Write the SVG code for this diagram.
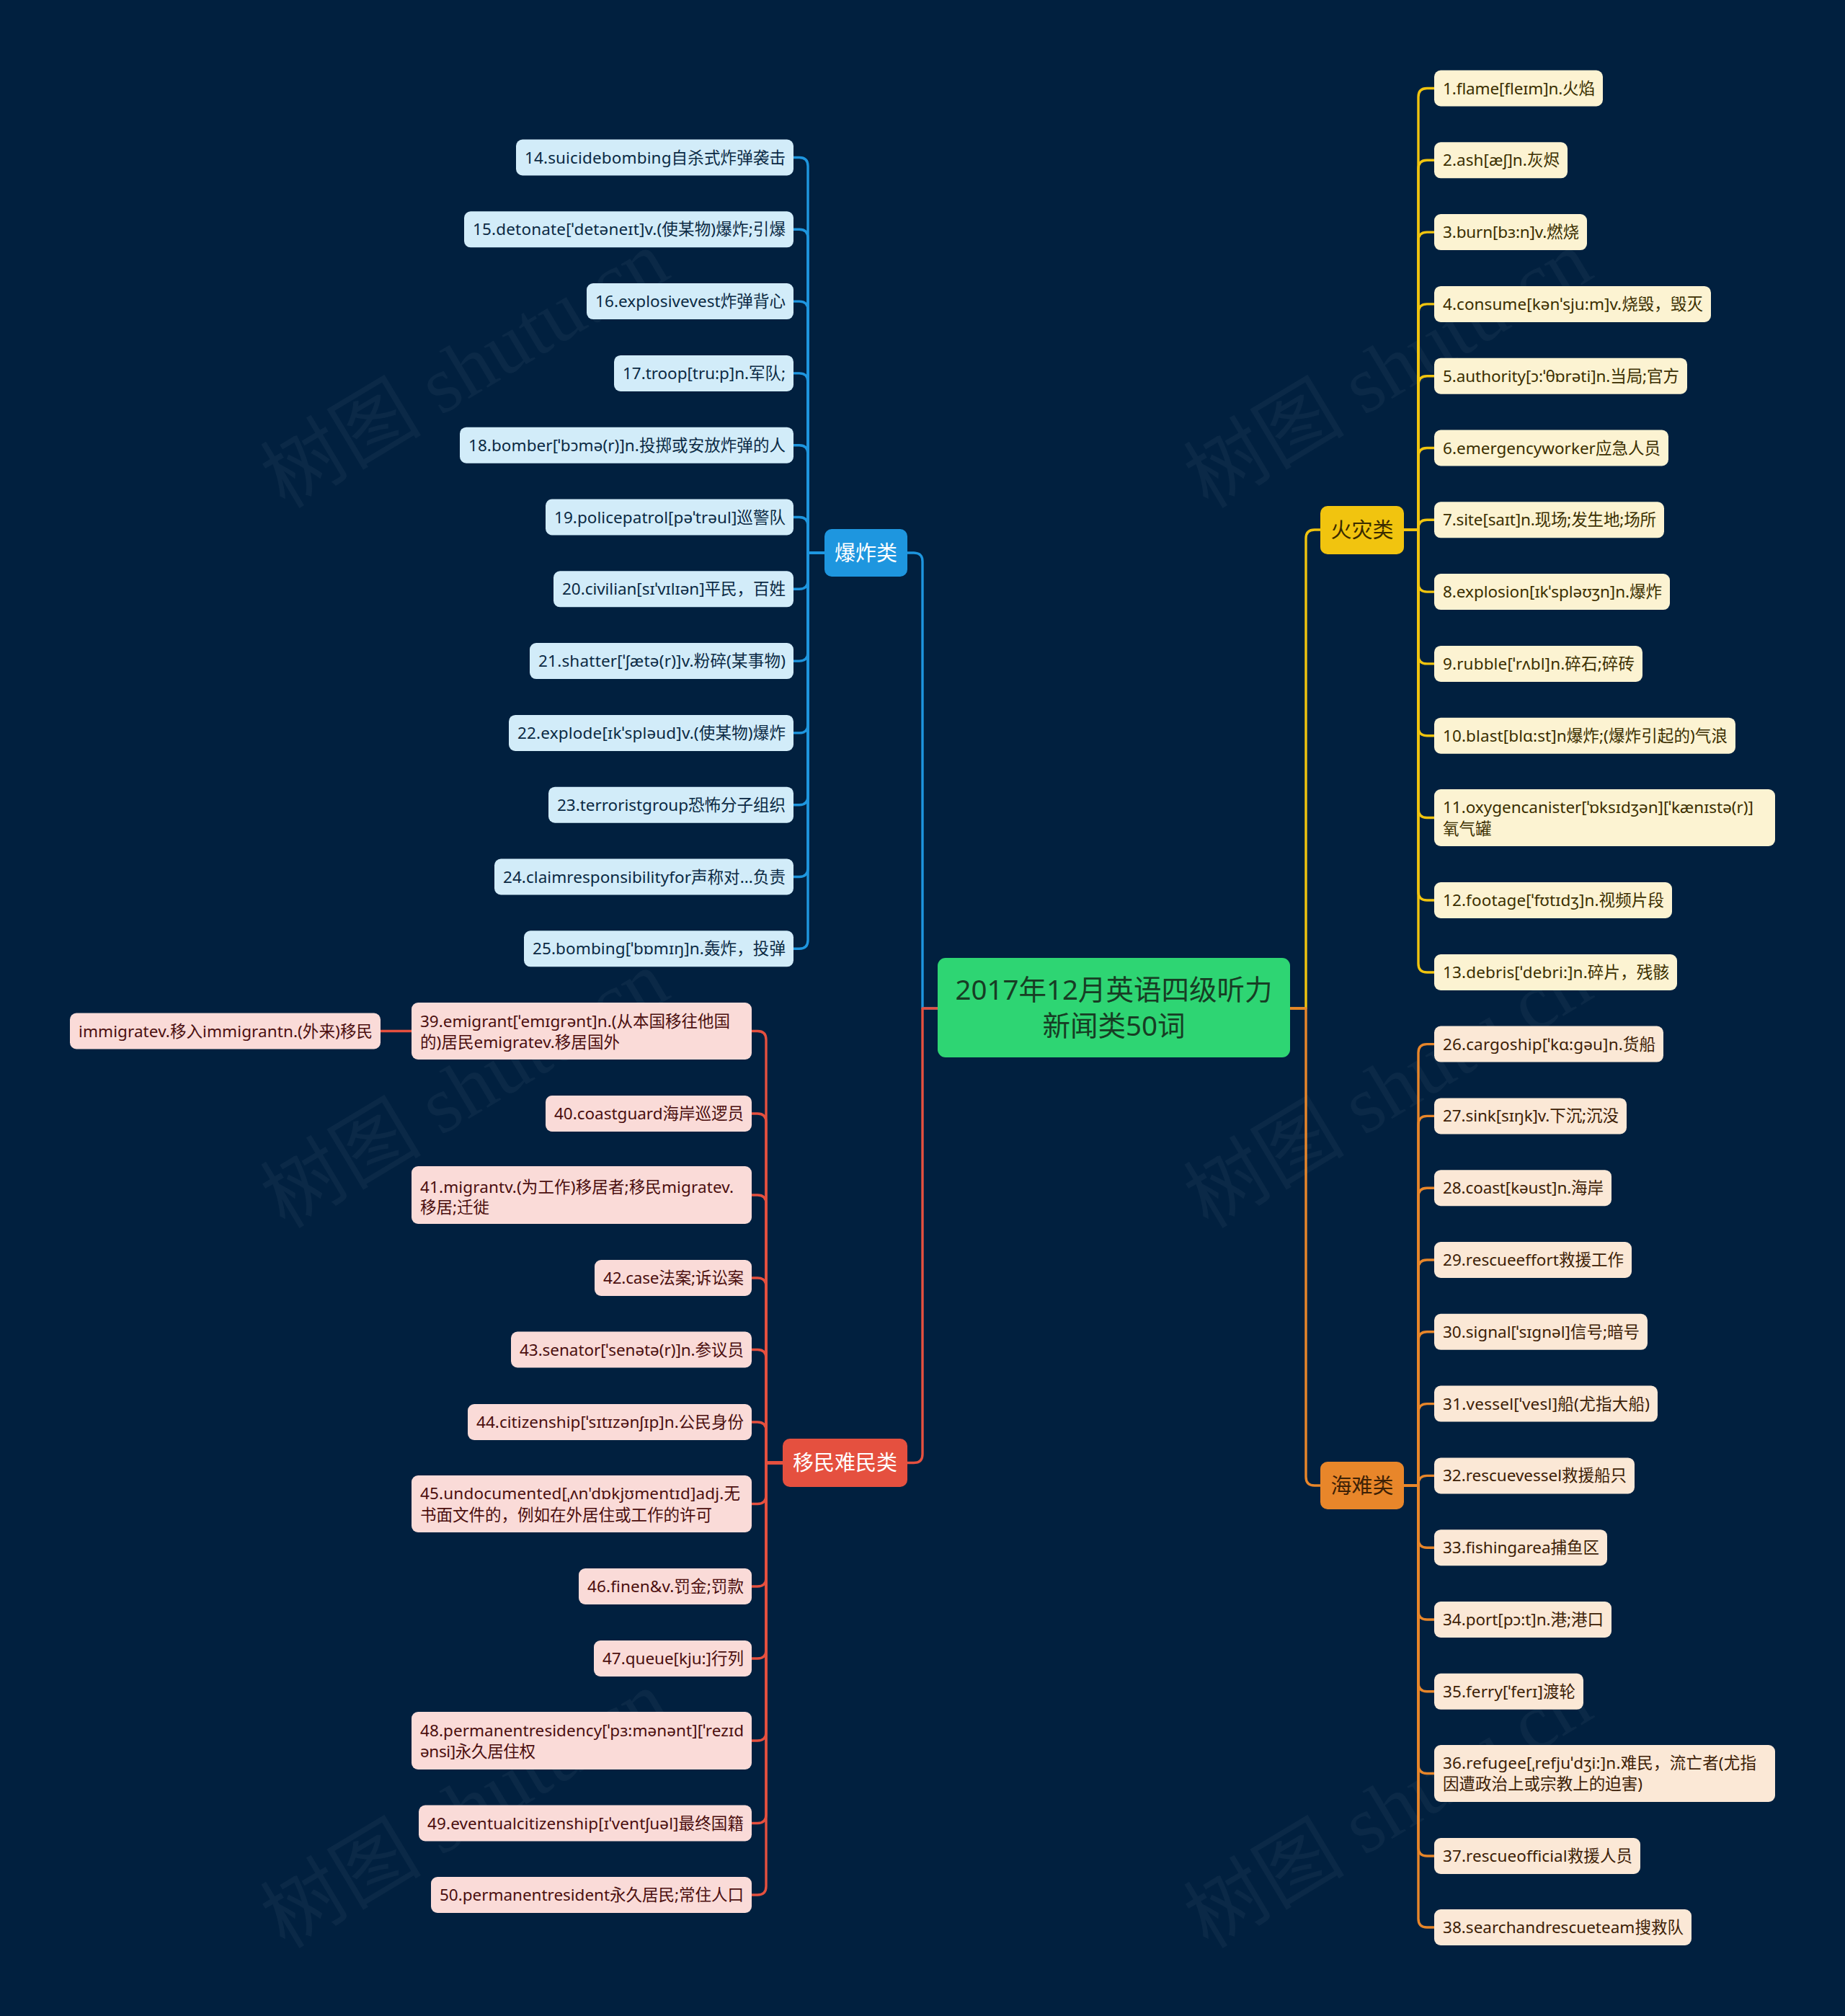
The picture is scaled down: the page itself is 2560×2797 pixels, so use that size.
<svg xmlns="http://www.w3.org/2000/svg" width="2560" height="2797" viewBox="0 0 2560 2797">
<style>
text{font-family:"Noto Sans","Noto Sans CJK SC",sans-serif;font-size:22.5px}
.c{fill:none;stroke-width:3.4;stroke-linejoin:round}
.cb{stroke:#1e96df}.cy{stroke:#f1c40f}.co{stroke:#e8862a}.cr{stroke:#e5503f}
.bb{fill:#d2ecf9}.tb{fill:#0b2a44}
.by{fill:#fcf3d2}.ty{fill:#3b2f00}
.bo{fill:#fbe8d6}.to{fill:#3d2106}
.br{fill:#fadbd8}.tr{fill:#4b0f0f}
.br2{font-size:29px}
.wm{font-family:"Liberation Serif","Noto Sans CJK SC",serif;font-size:112px;fill:#ffffff;fill-opacity:0.045}
</style>
<rect width="2560" height="2797" fill="#01203f"/>
<g id="watermarks">
<text class="wm" x="646" y="550" text-anchor="middle" transform="rotate(-31 646 514)">树图 shutu.cn</text>
<text class="wm" x="1927" y="550" text-anchor="middle" transform="rotate(-31 1927 514)">树图 shutu.cn</text>
<text class="wm" x="646" y="1549" text-anchor="middle" transform="rotate(-31 646 1513)">树图 shutu.cn</text>
<text class="wm" x="1927" y="1549" text-anchor="middle" transform="rotate(-31 1927 1513)">树图 shutu.cn</text>
<text class="wm" x="646" y="2548" text-anchor="middle" transform="rotate(-31 646 2512)">树图 shutu.cn</text>
<text class="wm" x="1927" y="2548" text-anchor="middle" transform="rotate(-31 1927 2512)">树图 shutu.cn</text>
</g>
<g id="connectors">
<path class="c cb" d="M1301 1399H1280V779Q1280 767 1268 767H1259"/>
<path class="c cr" d="M1301 1399H1280V2017.5Q1280 2029.5 1268 2029.5H1259"/>
<path class="c cy" d="M1790 1399H1812V747Q1812 735 1824 735H1832"/>
<path class="c co" d="M1790 1399H1812V2049Q1812 2061 1824 2061H1832"/>
<g class="c cb">
<path d="M1144 767H1121V230.5Q1121 218.5 1109 218.5H1101"/>
<path d="M1144 767H1121V330.3Q1121 318.3 1109 318.3H1101"/>
<path d="M1144 767H1121V430.1Q1121 418.1 1109 418.1H1101"/>
<path d="M1144 767H1121V529.9Q1121 517.9 1109 517.9H1101"/>
<path d="M1144 767H1121V629.7Q1121 617.7 1109 617.7H1101"/>
<path d="M1144 767H1121V729.5Q1121 717.5 1109 717.5H1101"/>
<path d="M1144 767H1121V805.3Q1121 817.3 1109 817.3H1101"/>
<path d="M1144 767H1121V905.1Q1121 917.1 1109 917.1H1101"/>
<path d="M1144 767H1121V1004.9Q1121 1016.9 1109 1016.9H1101"/>
<path d="M1144 767H1121V1104.7Q1121 1116.7 1109 1116.7H1101"/>
<path d="M1144 767H1121V1204.5Q1121 1216.5 1109 1216.5H1101"/>
<path d="M1144 767H1121V1304.3Q1121 1316.3 1109 1316.3H1101"/>
</g>
<g class="c cy">
<path d="M1948 735H1968V134.5Q1968 122.5 1980 122.5H1990"/>
<path d="M1948 735H1968V234.3Q1968 222.3 1980 222.3H1990"/>
<path d="M1948 735H1968V334.1Q1968 322.1 1980 322.1H1990"/>
<path d="M1948 735H1968V433.9Q1968 421.9 1980 421.9H1990"/>
<path d="M1948 735H1968V533.7Q1968 521.7 1980 521.7H1990"/>
<path d="M1948 735H1968V633.5Q1968 621.5 1980 621.5H1990"/>
<path d="M1948 735H1968V733.3Q1968 721.3 1980 721.3H1990"/>
<path d="M1948 735H1968V809.1Q1968 821.1 1980 821.1H1990"/>
<path d="M1948 735H1968V908.9Q1968 920.9 1980 920.9H1990"/>
<path d="M1948 735H1968V1008.7Q1968 1020.7 1980 1020.7H1990"/>
<path d="M1948 735H1968V1122.5Q1968 1134.5 1980 1134.5H1990"/>
<path d="M1948 735H1968V1237Q1968 1249 1980 1249H1990"/>
<path d="M1948 735H1968V1337Q1968 1349 1980 1349H1990"/>
</g>
<g class="c co">
<path d="M1948 2061H1968V1460.6Q1968 1448.6 1980 1448.6H1990"/>
<path d="M1948 2061H1968V1560.4Q1968 1548.4 1980 1548.4H1990"/>
<path d="M1948 2061H1968V1660.2Q1968 1648.2 1980 1648.2H1990"/>
<path d="M1948 2061H1968V1760Q1968 1748 1980 1748H1990"/>
<path d="M1948 2061H1968V1859.8Q1968 1847.8 1980 1847.8H1990"/>
<path d="M1948 2061H1968V1959.6Q1968 1947.6 1980 1947.6H1990"/>
<path d="M1948 2061H1968V2059.4Q1968 2047.4 1980 2047.4H1990"/>
<path d="M1948 2061H1968V2135.2Q1968 2147.2 1980 2147.2H1990"/>
<path d="M1948 2061H1968V2235Q1968 2247 1980 2247H1990"/>
<path d="M1948 2061H1968V2334.8Q1968 2346.8 1980 2346.8H1990"/>
<path d="M1948 2061H1968V2448.5Q1968 2460.5 1980 2460.5H1990"/>
<path d="M1948 2061H1968V2563Q1968 2575 1980 2575H1990"/>
<path d="M1948 2061H1968V2662Q1968 2674 1980 2674H1990"/>
</g>
<g class="c cr">
<path d="M1086 2029.5H1063V1442.5Q1063 1430.5 1051 1430.5H1043"/>
<path d="M1086 2029.5H1063V1557Q1063 1545 1051 1545H1043"/>
<path d="M1086 2029.5H1063V1670Q1063 1658 1051 1658H1043"/>
<path d="M1086 2029.5H1063V1785Q1063 1773 1051 1773H1043"/>
<path d="M1086 2029.5H1063V1884.5Q1063 1872.5 1051 1872.5H1043"/>
<path d="M1086 2029.5H1063V1985Q1063 1973 1051 1973H1043"/>
<path d="M1086 2029.5H1063V2074.5Q1063 2086.5 1051 2086.5H1043"/>
<path d="M1086 2029.5H1063V2189Q1063 2201 1051 2201H1043"/>
<path d="M1086 2029.5H1063V2289Q1063 2301 1051 2301H1043"/>
<path d="M1086 2029.5H1063V2403Q1063 2415 1051 2415H1043"/>
<path d="M1086 2029.5H1063V2517.5Q1063 2529.5 1051 2529.5H1043"/>
<path d="M1086 2029.5H1063V2617Q1063 2629 1051 2629H1043"/>
<path d="M571 1430.5H528"/>
</g>
</g>

<g id="root">
<rect x="1301" y="1329" width="489" height="138" rx="11" fill="#2ed573"/>
<text x="1545.5" y="1386.5" text-anchor="middle" fill="#173d24" style="font-size:38.5px">2017年12月英语四级听力</text>
<text x="1545.5" y="1436.5" text-anchor="middle" fill="#173d24" style="font-size:38.5px">新闻类50词</text>
</g>

<g id="branch-explosion">
<rect x="1144" y="734" width="115" height="66" rx="10" fill="#1e96df"/>
<text class="br2" x="1201.5" y="777.5" text-anchor="middle" fill="#ffffff">爆炸类</text>
</g>
<g id="branch-fire">
<rect x="1832" y="702" width="116" height="67" rx="10" fill="#f1c40f"/>
<text class="br2" x="1890" y="746" text-anchor="middle" fill="#3a2b00">火灾类</text>
</g>
<g id="branch-sea">
<rect x="1832" y="2028" width="116" height="66" rx="10" fill="#e8862a"/>
<text class="br2" x="1890" y="2071.5" text-anchor="middle" fill="#3d2106">海难类</text>
</g>
<g id="branch-migration">
<rect x="1086" y="1996" width="173" height="67" rx="10" fill="#e5503f"/>
<text class="br2" x="1172.5" y="2040" text-anchor="middle" fill="#ffffff">移民难民类</text>
</g>

<g id="n14"><rect class="bb" x="716" y="193.5" width="385" height="50" rx="9"/><text class="tb" x="728" y="226.5" textLength="362" lengthAdjust="spacing">14.suicidebombing自杀式炸弹袭击</text></g>
<g id="n15"><rect class="bb" x="644" y="293.3" width="457" height="50" rx="9"/><text class="tb" x="656" y="326.3" textLength="434" lengthAdjust="spacing">15.detonate[ˈdetəneɪt]v.(使某物)爆炸;引爆</text></g>
<g id="n16"><rect class="bb" x="814" y="393.1" width="287" height="50" rx="9"/><text class="tb" x="826" y="426.1" textLength="264" lengthAdjust="spacing">16.explosivevest炸弹背心</text></g>
<g id="n17"><rect class="bb" x="852" y="492.9" width="249" height="50" rx="9"/><text class="tb" x="864" y="525.9" textLength="226" lengthAdjust="spacing">17.troop[tru:p]n.军队;</text></g>
<g id="n18"><rect class="bb" x="638" y="592.7" width="463" height="50" rx="9"/><text class="tb" x="650" y="625.7" textLength="440" lengthAdjust="spacing">18.bomber[ˈbɔmə(r)]n.投掷或安放炸弹的人</text></g>
<g id="n19"><rect class="bb" x="757" y="692.5" width="344" height="50" rx="9"/><text class="tb" x="769" y="725.5" textLength="321" lengthAdjust="spacing">19.policepatrol[pəˈtrəul]巡警队</text></g>
<g id="n20"><rect class="bb" x="768" y="792.3" width="333" height="50" rx="9"/><text class="tb" x="780" y="825.3" textLength="310" lengthAdjust="spacing">20.civilian[sɪˈvɪlɪən]平民，百姓</text></g>
<g id="n21"><rect class="bb" x="735" y="892.1" width="366" height="50" rx="9"/><text class="tb" x="747" y="925.1" textLength="343" lengthAdjust="spacing">21.shatter[ˈʃætə(r)]v.粉碎(某事物)</text></g>
<g id="n22"><rect class="bb" x="706" y="991.9" width="395" height="50" rx="9"/><text class="tb" x="718" y="1024.9" textLength="372" lengthAdjust="spacing">22.explode[ɪkˈspləud]v.(使某物)爆炸</text></g>
<g id="n23"><rect class="bb" x="761" y="1091.7" width="340" height="50" rx="9"/><text class="tb" x="773" y="1124.7" textLength="317" lengthAdjust="spacing">23.terroristgroup恐怖分子组织</text></g>
<g id="n24"><rect class="bb" x="686" y="1191.5" width="415" height="50" rx="9"/><text class="tb" x="698" y="1224.5" textLength="392" lengthAdjust="spacing">24.claimresponsibilityfor声称对...负责</text></g>
<g id="n25"><rect class="bb" x="727" y="1291.3" width="374" height="50" rx="9"/><text class="tb" x="739" y="1324.3" textLength="351" lengthAdjust="spacing">25.bombing[ˈbɒmɪŋ]n.轰炸，投弹</text></g>

<g id="n1"><rect class="by" x="1990" y="97.5" width="234" height="50" rx="9"/><text class="ty" x="2002" y="130.5" textLength="211" lengthAdjust="spacing">1.flame[fleɪm]n.火焰</text></g>
<g id="n2"><rect class="by" x="1990" y="197.3" width="185" height="50" rx="9"/><text class="ty" x="2002" y="230.3" textLength="162" lengthAdjust="spacing">2.ash[æʃ]n.灰烬</text></g>
<g id="n3"><rect class="by" x="1990" y="297.1" width="212" height="50" rx="9"/><text class="ty" x="2002" y="330.1" textLength="189" lengthAdjust="spacing">3.burn[bɜ:n]v.燃烧</text></g>
<g id="n4"><rect class="by" x="1990" y="396.9" width="384" height="50" rx="9"/><text class="ty" x="2002" y="429.9" textLength="361" lengthAdjust="spacing">4.consume[kənˈsju:m]v.烧毁，毁灭</text></g>
<g id="n5"><rect class="by" x="1990" y="496.7" width="351" height="50" rx="9"/><text class="ty" x="2002" y="529.7" textLength="328" lengthAdjust="spacing">5.authority[ɔ:ˈθɒrəti]n.当局;官方</text></g>
<g id="n6"><rect class="by" x="1990" y="596.5" width="325" height="50" rx="9"/><text class="ty" x="2002" y="629.5" textLength="302" lengthAdjust="spacing">6.emergencyworker应急人员</text></g>
<g id="n7"><rect class="by" x="1990" y="696.3" width="319" height="50" rx="9"/><text class="ty" x="2002" y="729.3" textLength="296" lengthAdjust="spacing">7.site[saɪt]n.现场;发生地;场所</text></g>
<g id="n8"><rect class="by" x="1990" y="796.1" width="327" height="50" rx="9"/><text class="ty" x="2002" y="829.1" textLength="304" lengthAdjust="spacing">8.explosion[ɪkˈspləʊʒn]n.爆炸</text></g>
<g id="n9"><rect class="by" x="1990" y="895.9" width="289" height="50" rx="9"/><text class="ty" x="2002" y="928.9" textLength="266" lengthAdjust="spacing">9.rubble[ˈrʌbl]n.碎石;碎砖</text></g>
<g id="n10"><rect class="by" x="1990" y="995.7" width="418" height="50" rx="9"/><text class="ty" x="2002" y="1028.7" textLength="395" lengthAdjust="spacing">10.blast[blɑ:st]n爆炸;(爆炸引起的)气浪</text></g>
<g id="n11"><rect class="by" x="1990" y="1095" width="473" height="79" rx="9"/><text class="ty" x="2002" y="1128" textLength="431" lengthAdjust="spacing">11.oxygencanister[ˈɒksɪdʒən][ˈkænɪstə(r)]</text><text class="ty" x="2002" y="1158">氧气罐</text></g>
<g id="n12"><rect class="by" x="1990" y="1224" width="330" height="50" rx="9"/><text class="ty" x="2002" y="1257" textLength="307" lengthAdjust="spacing">12.footage[ˈfʊtɪdʒ]n.视频片段</text></g>
<g id="n13"><rect class="by" x="1990" y="1324" width="337" height="50" rx="9"/><text class="ty" x="2002" y="1357" textLength="314" lengthAdjust="spacing">13.debris[ˈdebri:]n.碎片，残骸</text></g>

<g id="n26"><rect class="bo" x="1990" y="1423.6" width="318" height="50" rx="9"/><text class="to" x="2002" y="1456.6" textLength="295" lengthAdjust="spacing">26.cargoship[ˈkɑ:gəu]n.货船</text></g>
<g id="n27"><rect class="bo" x="1990" y="1523.4" width="267" height="50" rx="9"/><text class="to" x="2002" y="1556.4" textLength="244" lengthAdjust="spacing">27.sink[sɪŋk]v.下沉;沉没</text></g>
<g id="n28"><rect class="bo" x="1990" y="1623.2" width="246" height="50" rx="9"/><text class="to" x="2002" y="1656.2" textLength="223" lengthAdjust="spacing">28.coast[kəust]n.海岸</text></g>
<g id="n29"><rect class="bo" x="1990" y="1723" width="274" height="50" rx="9"/><text class="to" x="2002" y="1756" textLength="251" lengthAdjust="spacing">29.rescueeffort救援工作</text></g>
<g id="n30"><rect class="bo" x="1990" y="1822.8" width="296" height="50" rx="9"/><text class="to" x="2002" y="1855.8" textLength="273" lengthAdjust="spacing">30.signal[ˈsɪgnəl]信号;暗号</text></g>
<g id="n31"><rect class="bo" x="1990" y="1922.6" width="310" height="50" rx="9"/><text class="to" x="2002" y="1955.6" textLength="287" lengthAdjust="spacing">31.vessel[ˈvesl]船(尤指大船)</text></g>
<g id="n32"><rect class="bo" x="1990" y="2022.4" width="278" height="50" rx="9"/><text class="to" x="2002" y="2055.4" textLength="255" lengthAdjust="spacing">32.rescuevessel救援船只</text></g>
<g id="n33"><rect class="bo" x="1990" y="2122.2" width="240" height="50" rx="9"/><text class="to" x="2002" y="2155.2" textLength="217" lengthAdjust="spacing">33.fishingarea捕鱼区</text></g>
<g id="n34"><rect class="bo" x="1990" y="2222" width="246" height="50" rx="9"/><text class="to" x="2002" y="2255" textLength="223" lengthAdjust="spacing">34.port[pɔ:t]n.港;港口</text></g>
<g id="n35"><rect class="bo" x="1990" y="2321.8" width="207" height="50" rx="9"/><text class="to" x="2002" y="2354.8" textLength="184" lengthAdjust="spacing">35.ferry[ˈferɪ]渡轮</text></g>
<g id="n36"><rect class="bo" x="1990" y="2421" width="473" height="79" rx="9"/><text class="to" x="2002" y="2454" textLength="435" lengthAdjust="spacing">36.refugee[ˌrefjuˈdʒi:]n.难民，流亡者(尤指</text><text class="to" x="2002" y="2483" textLength="277" lengthAdjust="spacing">因遭政治上或宗教上的迫害)</text></g>
<g id="n37"><rect class="bo" x="1990" y="2550" width="286" height="50" rx="9"/><text class="to" x="2002" y="2583" textLength="263" lengthAdjust="spacing">37.rescueofficial救援人员</text></g>
<g id="n38"><rect class="bo" x="1990" y="2649" width="357" height="50" rx="9"/><text class="to" x="2002" y="2682" textLength="334" lengthAdjust="spacing">38.searchandrescueteam搜救队</text></g>

<g id="n39"><rect class="br" x="571" y="1391" width="472" height="79" rx="9"/><text class="tr" x="583" y="1425" textLength="430" lengthAdjust="spacing">39.emigrant[ˈemɪgrənt]n.(从本国移往他国</text><text class="tr" x="583" y="1454" textLength="277" lengthAdjust="spacing">的)居民emigratev.移居国外</text></g>
<g id="n39a"><rect class="br" x="97" y="1405.5" width="431" height="50" rx="9"/><text class="tr" x="109" y="1438.5" textLength="408" lengthAdjust="spacing">immigratev.移入immigrantn.(外来)移民</text></g>
<g id="n40"><rect class="br" x="757" y="1520" width="286" height="50" rx="9"/><text class="tr" x="769" y="1553" textLength="263" lengthAdjust="spacing">40.coastguard海岸巡逻员</text></g>
<g id="n41"><rect class="br" x="571" y="1618" width="472" height="80" rx="9"/><text class="tr" x="583" y="1655" textLength="435" lengthAdjust="spacing">41.migrantv.(为工作)移居者;移民migratev.</text><text class="tr" x="583" y="1683" textLength="96" lengthAdjust="spacing">移居;迁徙</text></g>
<g id="n42"><rect class="br" x="825" y="1748" width="218" height="50" rx="9"/><text class="tr" x="837" y="1781" textLength="195" lengthAdjust="spacing">42.case法案;诉讼案</text></g>
<g id="n43"><rect class="br" x="709" y="1847.5" width="334" height="50" rx="9"/><text class="tr" x="721" y="1880.5" textLength="311" lengthAdjust="spacing">43.senator[ˈsenətə(r)]n.参议员</text></g>
<g id="n44"><rect class="br" x="649" y="1948" width="394" height="50" rx="9"/><text class="tr" x="661" y="1981" textLength="371" lengthAdjust="spacing">44.citizenship[ˈsɪtɪzənʃɪp]n.公民身份</text></g>
<g id="n45"><rect class="br" x="571" y="2047" width="472" height="79" rx="9"/><text class="tr" x="583" y="2080" textLength="444" lengthAdjust="spacing">45.undocumented[ˌʌn'dɒkjʊmentɪd]adj.无</text><text class="tr" x="583" y="2110">书面文件的，例如在外居住或工作的许可</text></g>
<g id="n46"><rect class="br" x="803" y="2176" width="240" height="50" rx="9"/><text class="tr" x="815" y="2209" textLength="217" lengthAdjust="spacing">46.finen&amp;v.罚金;罚款</text></g>
<g id="n47"><rect class="br" x="824" y="2276" width="219" height="50" rx="9"/><text class="tr" x="836" y="2309" textLength="196" lengthAdjust="spacing">47.queue[kju:]行列</text></g>
<g id="n48"><rect class="br" x="571" y="2375" width="472" height="80" rx="9"/><text class="tr" x="583" y="2409" textLength="449" lengthAdjust="spacing">48.permanentresidency[ˈpɜ:mənənt][ˈrezɪd</text><text class="tr" x="583" y="2438" textLength="160" lengthAdjust="spacing">ənsi]永久居住权</text></g>
<g id="n49"><rect class="br" x="581" y="2504.5" width="462" height="50" rx="9"/><text class="tr" x="593" y="2537.5" textLength="439" lengthAdjust="spacing">49.eventualcitizenship[ɪˈventʃuəl]最终国籍</text></g>
<g id="n50"><rect class="br" x="598" y="2604" width="445" height="50" rx="9"/><text class="tr" x="610" y="2637" textLength="422" lengthAdjust="spacing">50.permanentresident永久居民;常住人口</text></g>
</svg>
